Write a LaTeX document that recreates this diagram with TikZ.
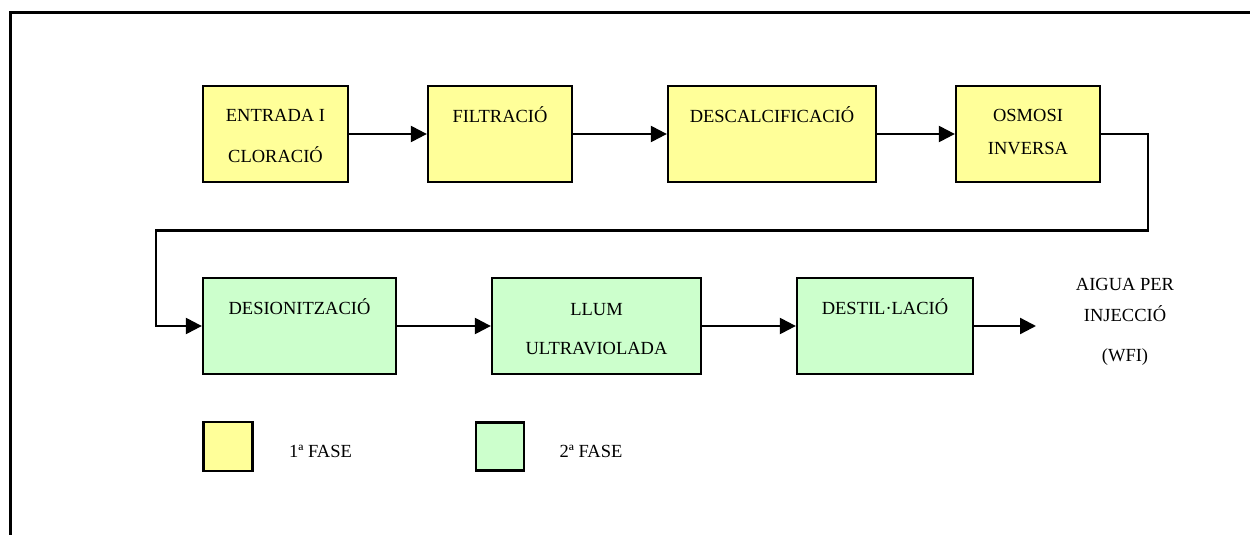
\documentclass[tikz,border=0pt]{standalone}
\usepackage{fontspec}
\setmainfont{Liberation Serif}
\usetikzlibrary{arrows.meta}
\definecolor{fase1}{HTML}{FFFF99}
\definecolor{fase2}{HTML}{CCFFCC}
\begin{document}
\begin{tikzpicture}[x=1pt,y=-1pt,
  box/.style={draw=black,line width=2.3pt,rectangle,inner sep=0pt},
  yel/.style={box,fill=fase1},
  grn/.style={box,fill=fase2},
  lbl/.style={inner sep=0pt,text height=0.66em,text depth=0pt,yshift=-2.5pt,font=\fontsize{18.5}{22}\selectfont},
  flow/.style={line width=2.3pt,-{Triangle[length=16pt,width=16pt]}},
  frameline/.style={line width=3pt}]
\useasboundingbox (0,0) rectangle (1250,535);
% frame lines at top and left
\draw[frameline] (10.5,535) -- (10.5,12.5) -- (1250,12.5);

% first phase boxes
\node[yel,minimum width=145pt,minimum height=96pt] (entrada) at (275.5,134) {};
\node[yel,minimum width=144pt,minimum height=96pt] (filtr) at (500,134) {};
\node[yel,minimum width=208pt,minimum height=96pt] (desc) at (772,134) {};
\node[yel,minimum width=144pt,minimum height=96pt] (osm) at (1028,134) {};

\node[lbl] at (275.5,116) {ENTRADA I};
\node[lbl] at (275.5,156.5) {CLORACIÓ};
\node[lbl] at (500,116.5) {FILTRACIÓ};
\node[lbl] at (772,116.5) {DESCALCIFICACIÓ};
\node[lbl] at (1028,116) {OSMOSI};
\node[lbl] at (1028,148.5) {INVERSA};

% second phase boxes
\node[grn,minimum width=193pt,minimum height=96pt] (deion) at (299.5,326) {};
\node[grn,minimum width=209pt,minimum height=96pt] (llum) at (596.5,326) {};
\node[grn,minimum width=176pt,minimum height=96pt] (dest) at (885,326) {};

\node[lbl] at (299.5,308.5) {DESIONITZACIÓ};
\node[lbl] at (596.5,309.5) {LLUM};
\node[lbl] at (596.5,348.5) {ULTRAVIOLADA};
\node[lbl] at (885,308.5) {DESTIL·LACIÓ};

% output label
\node[lbl] at (1125,284.5) {AIGUA PER};
\node[lbl] at (1125,315.5) {INJECCIÓ};
\node[lbl] at (1125,356) {(WFI)};
\coordinate (out) at (1036,326);

% connectors
\draw[flow] (entrada.east) -- (filtr.west);
\draw[flow] (filtr.east) -- (desc.west);
\draw[flow] (desc.east) -- (osm.west);
\draw[flow] (osm.east) -- (1148,134) -- (1148,230.5) -- (156,230.5) -- (156,326) -- (deion.west);
\draw[flow] (deion.east) -- (llum.west);
\draw[flow] (llum.east) -- (dest.west);
\draw[flow] (dest.east) -- (out);

% legend
\node[yel,minimum size=49pt] (leg1) at (228,446.5) {};
\node[lbl] at (320.5,452) {1ª FASE};
\node[grn,minimum size=48pt] (leg2) at (500,446.5) {};
\node[lbl] at (591,452) {2ª FASE};
\end{tikzpicture}
\end{document}
